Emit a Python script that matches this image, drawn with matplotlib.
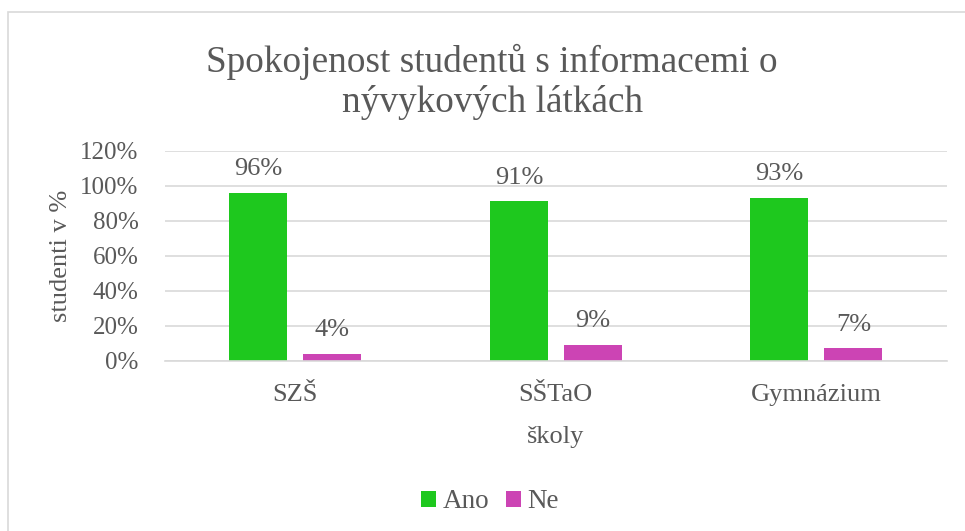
import matplotlib.pyplot as plt
import numpy as np
from matplotlib.ticker import PercentFormatter
from matplotlib.patches import Rectangle

skoly = ['SZŠ', 'SŠTaO', 'Gymnázium']
ano = [0.96, 0.91, 0.93]
ne = [0.04, 0.09, 0.07]
ano_labels = ['96%', '91%', '93%']
ne_labels = ['4%', '9%', '7%']

green = '#1EC81E'
magenta = '#CC44B4'
text_col = '#595959'
grid_col = '#D9D9D9'

plt.rcParams['font.family'] = ['Liberation Serif', 'DejaVu Serif']

fig = plt.figure(figsize=(9.65, 5.31), dpi=100)
ax = fig.add_axes([0.171, 0.3207, 0.810, 0.3955])

x = np.arange(len(skoly))
w = 0.222
b1 = ax.bar(x - 0.142, ano, w, color=green, label='Ano')
b2 = ax.bar(x + 0.142, ne, w, color=magenta, label='Ne')

for bars, labels in [(b1, ano_labels), (b2, ne_labels)]:
    for bar, lab in zip(bars, labels):
        ax.annotate(lab, (bar.get_x() + bar.get_width() / 2, bar.get_height()),
                    xytext=(0, 9), textcoords='offset points',
                    ha='center', va='bottom', fontsize=19, color=text_col)

ax.set_xlim(-0.5, 2.5)
ax.set_ylim(0, 1.2)
ax.set_yticks(np.arange(0, 1.21, 0.2))
ax.yaxis.set_major_formatter(PercentFormatter(1.0, decimals=0))
ax.set_xticks(x)
ax.set_xticklabels(skoly)
ax.tick_params(axis='both', length=0, labelsize=18, colors=text_col)
ax.tick_params(axis='x', labelsize=19, pad=17)
ax.tick_params(axis='y', pad=19)
ax.grid(axis='y', color=grid_col, linewidth=1.2)
ax.set_axisbelow(True)
for s in ['top', 'right', 'left']:
    ax.spines[s].set_visible(False)
ax.spines['bottom'].set_color(grid_col)
ax.spines['bottom'].set_linewidth(1.2)

ax.set_ylabel('studenti v %', fontsize=19, color=text_col, labelpad=6)
ax.set_xlabel('školy', fontsize=19, color=text_col, labelpad=14)

fig.text(0.51, 0.846, 'Spokojenost studentů s informacemi o\nnývykových látkách',
         ha='center', va='center', fontsize=26.8, color=text_col, linespacing=1.2)

fig.legend(handles=[b1, b2], loc='center', bbox_to_anchor=(0.508, 0.055), ncol=2,
           frameon=False, fontsize=19.5, handlelength=0.55, handleheight=0.55,
           handletextpad=0.25, columnspacing=0.6, labelcolor=text_col)

# chart frame
fig.patches.append(Rectangle((8 / 965, -0.1), 1.2, 1.1 - 12 / 531, transform=fig.transFigure,
                             fill=False, edgecolor=grid_col, linewidth=1.2))

fig.savefig('out.png', dpi=100)
